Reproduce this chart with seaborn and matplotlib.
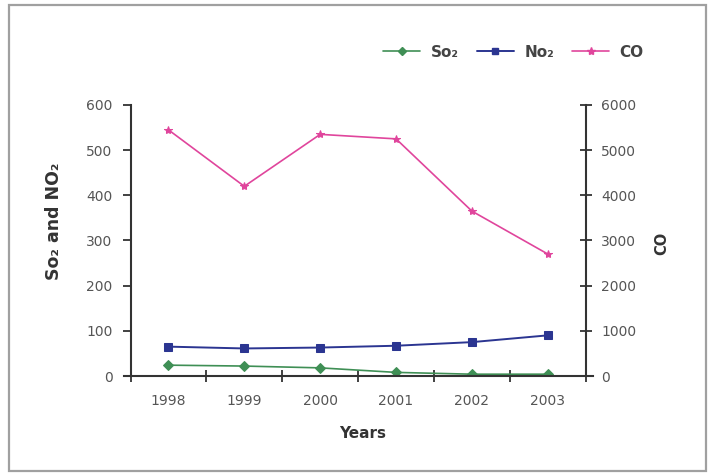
import matplotlib
matplotlib.use("Agg")
import matplotlib.pyplot as plt
import seaborn as sns
import pandas as pd
from matplotlib.lines import Line2D
from matplotlib.patches import Rectangle

years = [1998, 1999, 2000, 2001, 2002, 2003]
so2 = [24, 22, 18, 8, 4, 4]
nox = [65, 61, 63, 67, 75, 90]
co = [5450, 4200, 5350, 5250, 3650, 2700]

c_so2 = "#3f8f55"
c_nox = "#2b3591"
c_co = "#e0459c"

sns.set_theme(style="white")
plt.rcParams["font.family"] = ["DejaVu Sans"]

fig = plt.figure(figsize=(7.08, 4.73), dpi=100)
ax = fig.add_axes([130.5 / 708, 97 / 473, 456 / 708, 271 / 473])
ax2 = ax.twinx()

df_so2 = pd.DataFrame({"year": years, "value": so2})
df_nox = pd.DataFrame({"year": years, "value": nox})
df_co = pd.DataFrame({"year": years, "value": co})
sns.lineplot(data=df_so2, x="year", y="value", ax=ax,
             color=c_so2, marker="D", markersize=5, linewidth=1.2,
             markeredgecolor=c_so2, legend=False)
sns.lineplot(data=df_nox, x="year", y="value", ax=ax,
             color=c_nox, marker="s", markersize=6, linewidth=1.4,
             markeredgecolor=c_nox, legend=False)
sns.lineplot(data=df_co, x="year", y="value", ax=ax2, color=c_co,
             marker="*", markersize=6, linewidth=1.2,
             markeredgecolor=c_co, legend=False)

ax.set_xlim(1997.506, 2003.51)
ax.set_ylim(0, 600)
ax2.set_ylim(0, 6000)
ax.set_yticks(range(0, 601, 100))
ax2.set_yticks(range(0, 6001, 1000))
ax.set_xticks(years)
ax.set_xticklabels([str(y) for y in years])
ax.set_xticks([y - 0.5 for y in years] + [2003.5], minor=True)

spine_c = "#333333"
tick_c = "#555555"
for a in (ax, ax2):
    for s in a.spines.values():
        s.set_visible(False)
ax.spines["left"].set_visible(True)
ax.spines["bottom"].set_visible(True)
ax2.spines["right"].set_visible(True)
for s in (ax.spines["left"], ax.spines["bottom"], ax2.spines["right"]):
    s.set_color(spine_c)
    s.set_linewidth(1.5)
ax.spines["bottom"].set_bounds(1997.42, 2003.59)

ax.tick_params(axis="x", which="major", length=0, pad=13, labelsize=10, labelcolor=tick_c)
ax.tick_params(axis="x", which="minor", bottom=True, direction="inout", length=8,
               width=1.3, color=spine_c)
ax.tick_params(axis="y", left=True, direction="out", length=6, width=1.3,
               color=spine_c, labelsize=10, labelcolor=tick_c, pad=7)
ax2.tick_params(axis="y", right=True, direction="inout", length=9, width=1.3,
                color=spine_c, labelsize=10, labelcolor=tick_c, pad=6)

ax.set_xlabel("Years", fontsize=11, fontweight="bold", color="#333333")
ax.xaxis.set_label_coords(0.508, -0.1845)
ax.set_ylabel("So₂ and NO₂", fontsize=12.5, fontweight="bold", color="#333333")
ax.yaxis.set_label_coords(-0.147, 0.572)
ax2.set_ylabel("CO", fontsize=10.5, fontweight="bold", color="#333333")
ax2.yaxis.set_label_coords(1.148, 0.49)

handles = [
    Line2D([], [], color=c_so2, marker="D", markersize=4, lw=1.2),
    Line2D([], [], color=c_nox, marker="s", markersize=5, lw=1.4),
    Line2D([], [], color=c_co, marker="*", markersize=6, lw=1.2),
]
leg = fig.legend(handles, ["So₂", "No₂", "CO"], ncol=3, frameon=False,
                 loc="center right", bbox_to_anchor=(0.918, 0.89),
                 fontsize=11, handlelength=2.4, columnspacing=1.2,
                 handletextpad=0.7, borderaxespad=0)
for t in leg.get_texts():
    t.set_fontweight("bold")
    t.set_color("#444444")

fig.patches.append(Rectangle((9 / 708, 2 / 473), 697 / 708, 466 / 473,
                             transform=fig.transFigure, fill=False,
                             edgecolor="#a0a0a0", linewidth=1.6))

fig.savefig("out.png", dpi=100)
